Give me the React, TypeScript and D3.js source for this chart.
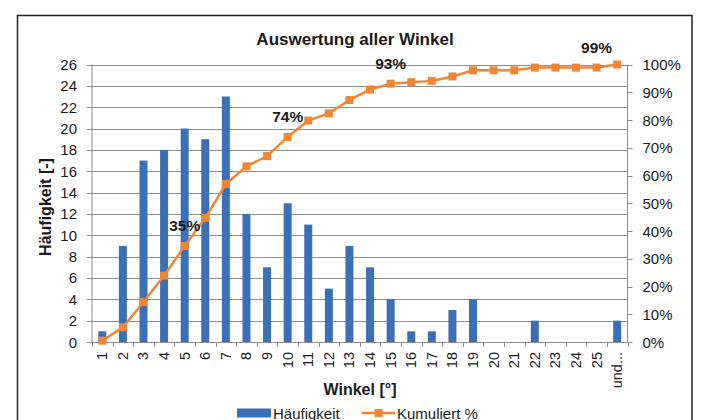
import React from "react";
import * as d3 from "d3";

const categories = ["1","2","3","4","5","6","7","8","9","10","11","12","13","14","15","16","17","18","19","20","21","22","23","24","25","und..."];
const frequency = [1,9,17,18,20,19,23,12,7,13,11,5,9,7,4,1,1,3,4,0,0,2,0,0,0,2];
const cumulative = [0.5,5.3,14.4,23.9,34.6,44.7,56.9,63.3,67.0,73.9,79.8,82.4,87.2,91.0,93.1,93.6,94.1,95.7,97.9,97.9,97.9,98.9,98.9,98.9,98.9,100];
const leftTicks = [0,2,4,6,8,10,12,14,16,18,20,22,24,26];
const rightTicks = [0,10,20,30,40,50,60,70,80,90,100];
const labelled = [{ cat: "5", text: "35%" }, { cat: "10", text: "74%" }, { cat: "15", text: "93%" }, { cat: "25", text: "99%" }];

const W = 702, H = 420;
const FONT = "'Liberation Sans', Arial, sans-serif";
const BLUE = "#3b6fb6";
const ORANGE = "#f28533";
const TXT = "#1a1a1a";

export default function App() {
  const left = 92, right = 627.5, top = 64.5, bottom = 342;
  const x = d3.scaleBand<string>().domain(categories).range([left, right]).paddingInner(0);
  const yL = d3.scaleLinear().domain([0, 26]).range([bottom, top]);
  const yR = d3.scaleLinear().domain([0, 100]).range([bottom, top]);
  const bw = 8;
  const cx = (c: string) => (x(c) as number) + x.bandwidth() / 2;
  const line = d3.line<number>().x((_, i) => cx(categories[i])).y((d) => yR(d));
  const bounds = categories.map((c) => x(c) as number).concat([right]);

  return (
    <svg width={W} height={H} style={{ position: "absolute", left: 0, top: 0, background: "#fff" }} fontFamily={FONT}>
      <rect x={17.5} y={15.5} width={674.5} height={420} fill="none" stroke="#222" strokeWidth={1.5} />
      <text x={355} y={45} textAnchor="middle" fontSize={17} fontWeight="bold" fill={TXT}>Auswertung aller Winkel</text>
      {leftTicks.map((t) => (
        <line key={"g" + t} x1={left} x2={right} y1={Math.round(yL(t)) + 0.5} y2={Math.round(yL(t)) + 0.5} stroke="#8e8e8e" strokeWidth={1} />
      ))}
      <line x1={left} x2={left} y1={top} y2={bottom} stroke="#8e8e8e" />
      {leftTicks.map((t) => (
        <g key={"l" + t}>
          <line x1={left - 5} x2={left} y1={Math.round(yL(t)) + 0.5} y2={Math.round(yL(t)) + 0.5} stroke="#8e8e8e" />
          <text x={left - 15} y={yL(t) + 5.5} textAnchor="end" fontSize={15} fill={TXT}>{t}</text>
        </g>
      ))}
      <line x1={right} x2={right} y1={top} y2={bottom} stroke="#8e8e8e" />
      {rightTicks.map((t) => (
        <g key={"r" + t}>
          <line x1={right} x2={right + 5} y1={Math.round(yR(t)) + 0.5} y2={Math.round(yR(t)) + 0.5} stroke="#8e8e8e" />
          <text x={right + 15} y={yR(t) + 5.5} textAnchor="start" fontSize={15} fill={TXT}>{t}%</text>
        </g>
      ))}
      {bounds.map((b, i) => (
        <line key={"x" + i} x1={Math.round(b) + 0.5} x2={Math.round(b) + 0.5} y1={bottom} y2={bottom + 5} stroke="#8e8e8e" />
      ))}
      {categories.map((c) => (
        <text key={"xl" + c} transform={`translate(${cx(c) + 5},${bottom + 10}) rotate(-90)`} textAnchor="end" fontSize={14.5} fill={TXT}>{c}</text>
      ))}
      {frequency.map((v, i) => (
        v > 0 ? <rect key={"b" + i} x={cx(categories[i]) - bw / 2} y={yL(v)} width={bw} height={bottom - yL(v)} fill={BLUE} /> : null
      ))}
      <path d={line(cumulative) as string} fill="none" stroke={ORANGE} strokeWidth={2.5} />
      {cumulative.map((v, i) => (
        <rect key={"m" + i} x={cx(categories[i]) - 4} y={yR(v) - 4} width={8} height={8} fill={ORANGE} />
      ))}
      {labelled.map((l) => {
        const i = categories.indexOf(l.cat);
        return (
          <text key={"lab" + l.cat} x={cx(l.cat)} y={yR(cumulative[i]) - 15} textAnchor="middle" fontSize={15.5} fontWeight="bold" fill={TXT}>{l.text}</text>
        );
      })}
      <text x={360} y={395} textAnchor="middle" fontSize={16} fontWeight="bold" fill={TXT}>Winkel [°]</text>
      <text transform={`translate(51,207) rotate(-90)`} textAnchor="middle" fontSize={16} fontWeight="bold" fill={TXT}>Häufigkeit [-]</text>
      <rect x={237} y={408.5} width={34} height={9} fill={BLUE} />
      <text x={273} y={418.5} fontSize={15} fill={TXT}>Häufigkeit</text>
      <line x1={362} x2={395} y1={413} y2={413} stroke={ORANGE} strokeWidth={2.5} />
      <rect x={374.5} y={409} width={8} height={8} fill={ORANGE} />
      <text x={397} y={418.5} fontSize={15} fill={TXT}>Kumuliert %</text>
    </svg>
  );
}
